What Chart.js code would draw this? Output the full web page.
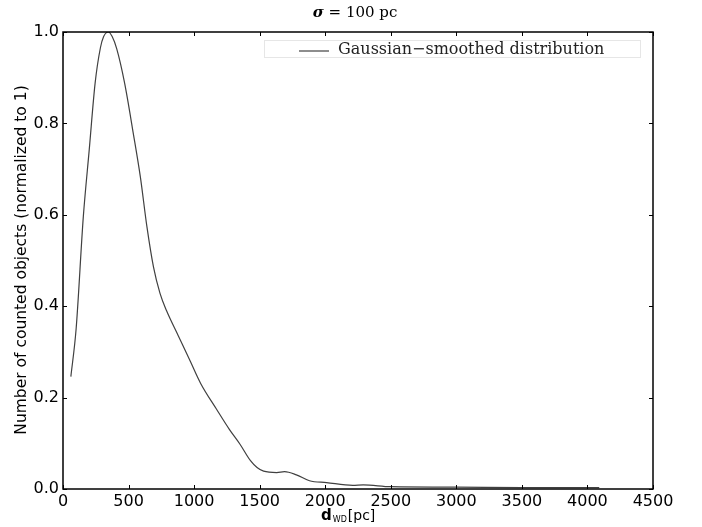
<!DOCTYPE html>
<html>
<head>
<meta charset="utf-8">
<script src="https://cdn.jsdelivr.net/npm/chart.js@4.4.1/dist/chart.umd.min.js"></script>
<style>
  html, body { margin: 0; padding: 0; background: #fff; }
  #wrap { width: 702px; height: 527px; position: relative; }
</style>
</head>
<body>
<div id="wrap"><canvas id="chart" width="702" height="527"></canvas></div>
<script>
// distance of white dwarfs [pc] and smoothed counts (normalized)
var distances = [60, 100, 155, 200, 245, 285, 310, 346, 375, 410, 470, 535, 590, 640, 690, 740, 790, 880, 970, 1050, 1170, 1270, 1350, 1430, 1480, 1530, 1630, 1690, 1780, 1880, 2010, 2210, 2290, 2500, 3000, 3500, 4090];
var smoothed = [0.246, 0.35, 0.596, 0.742, 0.888, 0.965, 0.99, 1.0, 0.99, 0.963, 0.888, 0.78, 0.683, 0.574, 0.486, 0.428, 0.39, 0.335, 0.28, 0.231, 0.175, 0.13, 0.098, 0.062, 0.047, 0.039, 0.036, 0.038, 0.031, 0.018, 0.014, 0.008, 0.009, 0.005, 0.004, 0.003, 0.003];
var xTicks = [0, 500, 1000, 1500, 2000, 2500, 3000, 3500, 4000, 4500];
var yTicks = [0.0, 0.2, 0.4, 0.6, 0.8, 1.0];

var points = [];
for (var i = 0; i < distances.length; i++) {
    points.push({x: distances[i], y: smoothed[i]});
}

// inward ticks on all four sides, frame, titles and legend (matplotlib look)
var decor = {
    id: 'decor',
    afterDraw: function(chart) {
        var ctx = chart.ctx;
        var a = chart.chartArea;
        var xs = chart.scales.x, ys = chart.scales.y;
        ctx.save();
        ctx.strokeStyle = '#000';
        ctx.lineWidth = 1;
        ctx.beginPath();
        xTicks.forEach(function(t) {
            var px = Math.round(xs.getPixelForValue(t)) + 0.5;
            ctx.moveTo(px, a.bottom); ctx.lineTo(px, a.bottom - 4);
            ctx.moveTo(px, a.top); ctx.lineTo(px, a.top + 4);
        });
        yTicks.forEach(function(t) {
            var py = Math.round(ys.getPixelForValue(t)) + 0.5;
            ctx.moveTo(a.left, py); ctx.lineTo(a.left + 4, py);
            ctx.moveTo(a.right, py); ctx.lineTo(a.right - 4, py);
        });
        ctx.stroke();
        ctx.lineWidth = 1.5;
        ctx.strokeRect(a.left, a.top, a.right - a.left, a.bottom - a.top);

        // title
        ctx.fillStyle = '#000';
        ctx.textBaseline = 'middle';
        ctx.font = 'italic bold 15px "DejaVu Serif"';
        var w1 = ctx.measureText('σ').width;
        ctx.font = '15px "DejaVu Serif"';
        var rest = ' = 100 pc';
        var w2 = ctx.measureText(rest).width;
        var tx = (a.left + a.right) / 2 - (w1 + w2) / 2 - 3;
        ctx.textAlign = 'left';
        ctx.font = 'italic bold 15px "DejaVu Serif"';
        ctx.fillText('σ', tx, 13);
        ctx.font = '15px "DejaVu Serif"';
        ctx.fillText(rest, tx + w1, 13);

        // legend
        ctx.strokeStyle = '#e6e6e6';
        ctx.lineWidth = 1;
        ctx.strokeRect(264.5, 40.5, 376, 17);
        ctx.strokeStyle = '#404040';
        ctx.lineWidth = 1.2;
        ctx.beginPath();
        ctx.moveTo(299, 51); ctx.lineTo(329, 51);
        ctx.stroke();
        ctx.font = '16px "DejaVu Serif"';
        ctx.fillStyle = '#222';
        ctx.fillText('Gaussian\u2212smoothed distribution', 338, 50);

        // y title
        ctx.fillStyle = '#000';
        ctx.save();
        ctx.translate(22, 260);
        ctx.rotate(-Math.PI / 2);
        ctx.textAlign = 'center';
        ctx.font = '15.5px "DejaVu Sans"';
        ctx.fillText('Number of counted objects (normalized to 1)', 0, 0);
        ctx.restore();

        // x title: d_WD [pc]
        ctx.textAlign = 'left';
        ctx.font = 'bold 15px "DejaVu Sans"';
        var xx = 321;
        ctx.fillText('d', xx, 516);
        xx += ctx.measureText('d').width + 1;
        ctx.font = '8px "DejaVu Sans"';
        ctx.fillText('WD', xx, 520);
        xx += ctx.measureText('WD').width + 1;
        ctx.font = '14px "DejaVu Sans"';
        ctx.fillText('[pc]', xx, 516);
        ctx.restore();
    }
};

new Chart(document.getElementById('chart'), {
    type: 'line',
    data: {
        datasets: [{
            label: 'Gaussian\u2212smoothed distribution',
            data: points,
            borderColor: '#404040',
            borderWidth: 1.2,
            pointRadius: 0,
            fill: false,
            cubicInterpolationMode: 'monotone'
        }]
    },
    options: {
        responsive: false,
        animation: false,
        layout: { padding: { left: 0, top: 32, right: 49, bottom: 0 } },
        plugins: { legend: { display: false }, tooltip: { enabled: false } },
        scales: {
            x: {
                type: 'linear',
                min: 0, max: 4500,
                afterFit: function(s) { s.height = 38; },
                afterBuildTicks: function(s) { s.ticks = xTicks.map(function(v) { return {value: v}; }); },
                grid: { display: false, drawTicks: false },
                border: { display: false },
                ticks: {
                    color: '#000', padding: 3, maxRotation: 0,
                    font: { family: 'DejaVu Sans', size: 16 },
                    callback: function(v) { return String(v); }
                }
            },
            y: {
                min: 0, max: 1,
                afterFit: function(s) { s.width = 63; },
                afterBuildTicks: function(s) { s.ticks = yTicks.map(function(v) { return {value: v}; }); },
                grid: { display: false, drawTicks: false },
                border: { display: false },
                ticks: {
                    color: '#000', padding: 4,
                    font: { family: 'DejaVu Sans', size: 16 },
                    callback: function(v) { return v.toFixed(1); }
                }
            }
        }
    },
    plugins: [decor]
});
</script>
</body>
</html>
